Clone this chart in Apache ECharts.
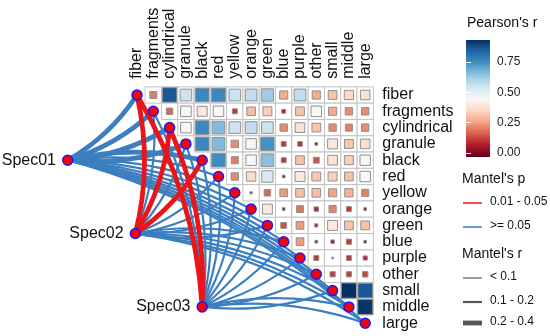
<!DOCTYPE html>
<html>
<head>
<meta charset="utf-8">
<script src="https://cdn.jsdelivr.net/npm/echarts@6/dist/echarts.min.js"></script>
<style>
  html, body { margin: 0; background: #fff; }
  #main { width: 550px; height: 336px; }
</style>
</head>
<body>
<div id="main"></div>
<script>
// variables of the correlation matrix (columns left->right, rows top->bottom)
var vars = ['fiber', 'fragments', 'cylindrical', 'granule', 'black', 'red', 'yellow',
            'orange', 'green', 'blue', 'purple', 'other', 'small', 'middle', 'large'];

// Pearson's r, upper triangle: row i holds columns i+1 .. 14
var corrRows = [
  [0.20, 0.86, 0.55, 0.76, 0.76, 0.55, 0.57, 0.62, 0.27, 0.57, 0.27, 0.31, 0.35, 0.37],
  [0.17, 0.45, 0.40, 0.45, 0.10, 0.30, 0.33, 0.06, 0.31, 0.45, 0.27, 0.22, 0.22],
  [0.45, 0.76, 0.66, 0.55, 0.57, 0.55, 0.22, 0.38, 0.31, 0.22, 0.20, 0.22],
  [0.76, 0.66, 0.22, 0.45, 0.74, 0.10, 0.09, 0.03, 0.40, 0.32, 0.37],
  [0.75, 0.20, 0.45, 0.65, 0.10, 0.31, 0.14, 0.38, 0.33, 0.44],
  [0.22, 0.36, 0.52, 0.03, 0.40, 0.32, 0.33, 0.31, 0.45],
  [0.02, 0.17, 0.24, 0.30, 0.30, 0.26, 0.28, 0.20],
  [0.40, 0.03, 0.19, 0.08, 0.21, 0.10, 0.03],
  [0.14, 0.24, 0.04, 0.40, 0.31, 0.31],
  [0.24, 0.03, 0.05, 0.11, 0.03],
  [0.10, 0.01, 0.10, 0.07],
  [0.11, 0.11, 0.12],
  [0.93, 0.86],
  [0.92]
];

// mantel test: environment nodes and their place in the plot (data units)
var specNames = ['Spec01', 'Spec02', 'Spec03'];
var specX = [-4.25, -0.1, 4.0];
var specY = [4.0, 8.5, 13.0];

var pLevels = ['0.01 - 0.05', '>= 0.05'];
var rLevels = ['< 0.1', '0.1 - 0.2', '0.2 - 0.4'];

// index into pLevels / rLevels, one per variable
var spec01P = [1, 1, 1, 1, 1, 1, 1, 1, 1, 1, 1, 1, 1, 1, 1];
var spec01R = [2, 2, 2, 2, 2, 1, 1, 1, 1, 1, 1, 1, 1, 1, 1];
var spec02P = [0, 1, 0, 1, 0, 1, 1, 1, 1, 1, 1, 1, 1, 1, 1];
var spec02R = [2, 1, 2, 1, 2, 1, 1, 1, 1, 1, 1, 1, 1, 1, 1];
var spec03P = [0, 1, 0, 1, 1, 1, 1, 1, 1, 1, 1, 1, 1, 1, 1];
var spec03R = [2, 1, 2, 1, 1, 1, 1, 1, 1, 1, 1, 1, 1, 1, 1];

var colorTicks = [0, 0.25, 0.5, 0.75];

// ---- styles ----
var FONT = 'Liberation Sans, Arial, sans-serif';
var CMIN = -0.033, CMAX = 0.93;
var palette = ['#67001F', '#B2182B', '#D6604D', '#F4A582', '#FDDBC7', '#F7F7F7',
               '#D1E5F0', '#92C5DE', '#4393C3', '#2166AC', '#053061'];
var pColors = ['#ea1519', '#3b7fc0'];
var rWidths = [1.2, 2.2, 4.8];
var CURVE = 0.12;

var specP = [spec01P, spec02P, spec03P];
var specR = [spec01R, spec02R, spec03R];

var cellData = [];
corrRows.forEach(function (row, i) {
  row.forEach(function (r, k) {
    cellData.push([i + 1 + k, i, r]);
  });
});

// curves bend one way for targets above the spec node, the other way below
function buildLinks(pWanted) {
  var out = [];
  specNames.forEach(function (name, s) {
    vars.forEach(function (v, i) {
      if (specP[s][i] !== pWanted) return;
      out.push({
        coords: [[specX[s], specY[s]], [i, i]],
        lineStyle: { width: rWidths[specR[s][i]], curveness: i < specY[s] ? -CURVE : CURVE }
      });
    });
  });
  return out;
}

var nodeData = vars.map(function (v, i) { return { value: [i, i] }; });
specNames.forEach(function (name, s) {
  nodeData.push({ value: [specX[s], specY[s]], name: name, label: { show: true } });
});

function renderCell(params, api) {
  var c = api.coord([api.value(0), api.value(1)]);
  var s = api.size([1, 1]);
  var w = s[0], h = s[1];
  var side = w * 0.93 * Math.sqrt(Math.abs(api.value(2)) / CMAX);
  return {
    type: 'group',
    children: [
      { type: 'rect', shape: { x: c[0] - w / 2, y: c[1] - h / 2, width: w, height: h },
        style: { fill: '#fff', stroke: '#c2c2c2', lineWidth: 1 } },
      { type: 'rect', shape: { x: c[0] - side / 2, y: c[1] - side / 2, width: side, height: side },
        style: { fill: api.visual('color'), stroke: '#909090', lineWidth: 1 } }
    ]
  };
}

function renderBar(params, api) {
  var p0 = api.coord([0, CMAX]);
  var p1 = api.coord([1, CMIN]);
  var stops = palette.slice().reverse().map(function (c, i) {
    return { offset: i / (palette.length - 1), color: c };
  });
  return {
    type: 'rect',
    shape: { x: p0[0], y: p0[1], width: p1[0] - p0[0], height: p1[1] - p0[1] },
    style: { fill: new echarts.graphic.LinearGradient(0, 0, 0, 1, stops) }
  };
}

var txt = { fontFamily: FONT, fill: '#111' };
function legText(x, y, s, size) {
  return { type: 'text', left: x, top: y - size * 0.6, z: 100,
           style: Object.assign({ text: s, fontSize: size }, txt) };
}
function legLine(y, color, width) {
  return { type: 'line', z: 100, shape: { x1: 463, y1: y, x2: 482, y2: y },
           style: { stroke: color, lineWidth: width } };
}

var graphics = [
  legText(467, 25, "Pearson's r", 14),
  legText(462, 181, "Mantel's p", 14),
  legLine(203, pColors[0], 1.5), legText(490, 203, pLevels[0], 12),
  legLine(227, pColors[1], 1.5), legText(490, 227, pLevels[1], 12),
  legText(462, 256, "Mantel's r", 14),
  legLine(278, '#555', rWidths[0]), legText(490, 278, rLevels[0], 12),
  legLine(302, '#555', rWidths[1]), legText(490, 302, rLevels[1], 12),
  legLine(323, '#555', rWidths[2]), legText(490, 323, rLevels[2], 12)
];

var idx = vars.map(function (v, i) { return i; });

var option = {
  animation: false,
  backgroundColor: '#fff',
  textStyle: { fontFamily: FONT },
  grid: [
    { left: 6.6, right: 176.65, top: 86.85, bottom: 4.65 },
    { left: 466, top: 40, width: 24, height: 117 }
  ],
  xAxis: [
    { type: 'value', gridIndex: 0, min: -8, max: 14.5, position: 'top',
      axisLine: { show: false }, axisTick: { show: false }, splitLine: { show: false },
      axisLabel: { customValues: idx, rotate: 90, margin: 8, fontSize: 16, color: '#111',
                   showMinLabel: true, showMaxLabel: true,
                   fontFamily: FONT, formatter: function (v) { return vars[Math.round(v)]; } } },
    { type: 'value', gridIndex: 1, min: 0, max: 1, show: false }
  ],
  yAxis: [
    { type: 'value', gridIndex: 0, min: -0.5, max: 14.5, inverse: true, position: 'right',
      axisLine: { show: false }, axisTick: { show: false }, splitLine: { show: false },
      axisLabel: { customValues: idx, margin: 9, fontSize: 16, color: '#111', fontFamily: FONT,
                   showMinLabel: true, showMaxLabel: true,
                   formatter: function (v) { return vars[Math.round(v)]; } } },
    { type: 'value', gridIndex: 1, min: CMIN, max: CMAX, position: 'right', z: 10,
      axisLine: { show: false }, splitLine: { show: false },
      axisTick: { show: true, inside: true, length: 5, customValues: colorTicks,
                  lineStyle: { color: '#fff', width: 1 } },
      axisLabel: { customValues: colorTicks, margin: 7, fontSize: 12, color: '#222', fontFamily: FONT,
                   formatter: function (v) { return v.toFixed(2); } } },
    { type: 'value', gridIndex: 1, min: CMIN, max: CMAX, position: 'left', z: 10,
      axisLine: { show: false }, splitLine: { show: false }, axisLabel: { show: false },
      axisTick: { show: true, inside: true, length: 5, customValues: colorTicks,
                  lineStyle: { color: '#fff', width: 1 } } }
  ],
  visualMap: {
    show: false, seriesIndex: 0, dimension: 2, min: CMIN, max: CMAX,
    inRange: { color: palette }
  },
  series: [
    { type: 'custom', xAxisIndex: 0, yAxisIndex: 0, renderItem: renderCell, data: cellData,
      encode: { x: 0, y: 1 }, z: 1, silent: true },
    { type: 'lines', coordinateSystem: 'cartesian2d', xAxisIndex: 0, yAxisIndex: 0,
      data: buildLinks(1), lineStyle: { color: pColors[1], opacity: 1 }, z: 2, silent: true },
    { type: 'lines', coordinateSystem: 'cartesian2d', xAxisIndex: 0, yAxisIndex: 0,
      data: buildLinks(0), lineStyle: { color: pColors[0], opacity: 1 }, z: 3, silent: true },
    { type: 'scatter', xAxisIndex: 0, yAxisIndex: 0, data: nodeData, symbolSize: 10, z: 4,
      itemStyle: { color: '#ff0000', borderColor: '#1a1aff', borderWidth: 1.5, opacity: 1 },
      label: { show: false, position: 'left', distance: 6, fontSize: 16, color: '#111',
               fontFamily: FONT, formatter: '{b}' }, silent: true },
    { type: 'custom', xAxisIndex: 1, yAxisIndex: 1, renderItem: renderBar, data: [[0, 0]], z: 1, silent: true }
  ],
  graphic: graphics
};

var chart = echarts.init(document.getElementById('main'));
chart.setOption(option);
</script>
</body>
</html>
